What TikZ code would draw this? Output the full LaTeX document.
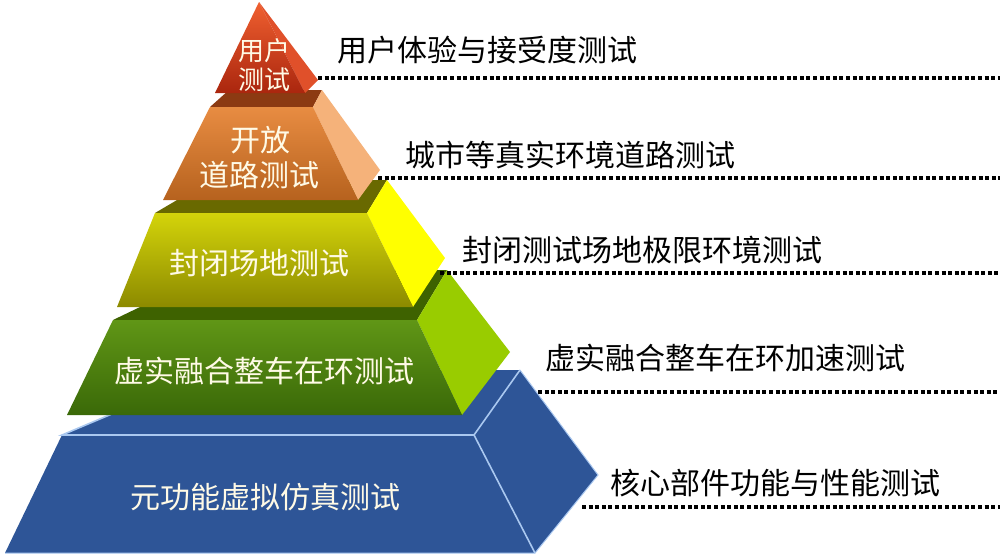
\documentclass[tikz,border=0pt]{standalone}
\usepackage{fontspec}
\newfontfamily\cjk{Noto Sans CJK SC}
\definecolor{bluemain}{RGB}{46,85,151}
\definecolor{blueline}{RGB}{170,200,240}
\definecolor{greentop}{RGB}{96,150,22}
\definecolor{greenbot}{RGB}{58,105,8}
\definecolor{greendark}{RGB}{62,98,0}
\definecolor{greenside}{RGB}{153,204,0}
\definecolor{olivetop}{RGB}{212,212,10}
\definecolor{olivebot}{RGB}{140,138,0}
\definecolor{olivedark}{RGB}{105,105,0}
\definecolor{yellowside}{RGB}{255,255,0}
\definecolor{orangetop}{RGB}{232,140,66}
\definecolor{orangebot}{RGB}{182,98,30}
\definecolor{orangedark}{RGB}{140,58,18}
\definecolor{orangeside}{RGB}{245,178,122}
\definecolor{redtop}{RGB}{240,96,48}
\definecolor{redbot}{RGB}{170,38,14}
\definecolor{redside}{RGB}{224,80,42}
\definecolor{intext}{RGB}{255,250,230}
\tikzset{
  inlabel/.style={font=\cjk\fontsize{30}{32}\selectfont, text=intext, inner sep=0pt},
  toplabel/.style={font=\cjk\fontsize{26}{28}\selectfont, text=intext, inner sep=0pt},
  outlabel/.style={font=\cjk\fontsize{30}{32}\selectfont, text=black, inner sep=0pt, anchor=west},
  dotline/.style={line width=3.4pt, dash pattern=on 4pt off 2.6pt, black},
  edgeline/.style={blueline, line width=1.6pt}
}
\begin{document}
\begin{tikzpicture}[x=1pt,y=-1pt]
\useasboundingbox (0,0) rectangle (1000,555);
\fill[white] (0,0) rectangle (1000,555);
% ---- level 5 blue
\coordinate (b1) at (62,435); \coordinate (b2) at (474,435);
\coordinate (b3) at (535,553); \coordinate (b4) at (5,553);
\coordinate (b5) at (216,370); \coordinate (b6) at (520,370);
\coordinate (b7) at (598,475);
\fill[bluemain] (b1)--(b5)--(b6)--(b2)--cycle;
\fill[bluemain] (b2)--(b6)--(b7)--(b3)--cycle;
\fill[bluemain] (b1)--(b2)--(b3)--(b4)--cycle;
\draw[edgeline] (b5)--(b1)--(b2)--(b3);
\draw[edgeline] (b2)--(b6);
\draw[edgeline, line width=1pt] (b4)--(b3)--(b7)--(b6);
% ---- level 4 green
\coordinate (g1) at (113,320); \coordinate (g2) at (417,320);
\coordinate (g3) at (462,415); \coordinate (g4) at (67,415);
\coordinate (g5) at (217,270); \coordinate (g6) at (447,270);
\coordinate (g7) at (510,352);
\fill[greendark] (g1)--(g5)--(g6)--(g2)--cycle;
\fill[greenside] (g2)--(g6)--(g7)--(g3)--cycle;
\shade[top color=greentop, bottom color=greenbot] (g1)--(g2)--(g3)--(g4)--cycle;
% ---- level 3 olive/yellow
\coordinate (y1) at (155,213); \coordinate (y2) at (367,213);
\coordinate (y3) at (413,307); \coordinate (y4) at (117,307);
\coordinate (y5) at (211,180); \coordinate (y6) at (387,180);
\coordinate (y7) at (445,258);
\fill[olivedark] (y1)--(y5)--(y6)--(y2)--cycle;
\fill[yellowside] (y2)--(y6)--(y7)--(y3)--cycle;
\shade[top color=olivetop, bottom color=olivebot] (y1)--(y2)--(y3)--(y4)--cycle;
% ---- level 2 orange
\coordinate (o1) at (210,107); \coordinate (o2) at (313,107);
\coordinate (o3) at (358,200); \coordinate (o4) at (163,200);
\coordinate (o5) at (229,90); \coordinate (o6) at (322,90);
\coordinate (o7) at (380,170);
\fill[orangedark] (o1)--(o5)--(o6)--(o2)--cycle;
\fill[orangeside] (o2)--(o6)--(o7)--(o3)--cycle;
\shade[top color=orangetop, bottom color=orangebot] (o1)--(o2)--(o3)--(o4)--cycle;
% ---- level 1 red
\coordinate (r1) at (259,2); \coordinate (r2) at (215,93);
\coordinate (r3) at (305,93); \coordinate (r4) at (318,80);
\fill[redside] (r1)--(r3)--(r4)--cycle;
\shade[top color=redtop, bottom color=redbot] (r1)--(r2)--(r3)--cycle;
% ---- inner labels
\node[toplabel] (l1a) at (264,51) {用户};
\node[toplabel] (l1b) at (264,80) {测试};
\node[inlabel] (l2a) at (260,140) {开放};
\node[inlabel] (l2b) at (259,175) {道路测试};
\node[inlabel] (l3) at (259,263) {封闭场地测试};
\node[inlabel] (l4) at (264,371) {虚实融合整车在环测试};
\node[inlabel] (l5) at (265,497) {元功能虚拟仿真测试};
% ---- outer labels
\node[outlabel] (t1) at (337,50) {用户体验与接受度测试};
\node[outlabel] (t2) at (405,155) {城市等真实环境道路测试};
\node[outlabel] (t3) at (462,250) {封闭测试场地极限环境测试};
\node[outlabel] (t4) at (545,358) {虚实融合整车在环加速测试};
\node[outlabel] (t5) at (610,483) {核心部件功能与性能测试};
% ---- dotted lines
\coordinate (d1s) at (318,78); \coordinate (d1e) at (1000,78);
\coordinate (d2s) at (378,178); \coordinate (d2e) at (1000,178);
\coordinate (d3s) at (440,273); \coordinate (d3e) at (1000,273);
\coordinate (d4s) at (538,392); \coordinate (d4e) at (1000,392);
\coordinate (d5s) at (582,507); \coordinate (d5e) at (1000,507);
\draw[dotline] (d1s)--(d1e);
\draw[dotline] (d2s)--(d2e);
\draw[dotline] (d3s)--(d3e);
\draw[dotline] (d4s)--(d4e);
\draw[dotline] (d5s)--(d5e);
\end{tikzpicture}
\end{document}
